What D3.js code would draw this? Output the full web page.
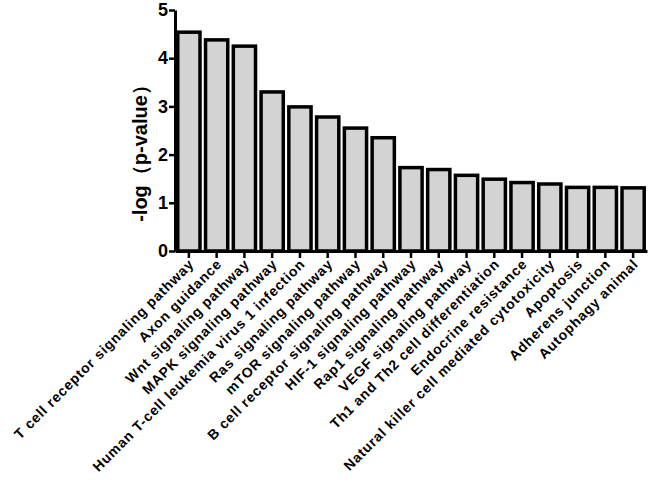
<!DOCTYPE html>
<html>
<head>
<meta charset="utf-8">
<script src="https://cdn.jsdelivr.net/npm/d3@7"></script>
<style>
  body { margin: 0; background: #fff; }
  svg { display: block; font-family: "Liberation Sans", Arial, sans-serif; }
</style>
</head>
<body>
<svg id="chart" width="654" height="484"></svg>
<script>
var pathways = [
  'T cell receptor signaling pathway', 'Axon guidance', 'Wnt signaling pathway',
  'MAPK signaling pathway', 'Human T-cell leukemia virus 1 infection', 'Ras signaling pathway',
  'mTOR signaling pathway', 'B cell receptor signaling pathway', 'HIF-1 signaling pathway',
  'Rap1 signaling pathway', 'VEGF signaling pathway', 'Th1 and Th2 cell differentiation',
  'Endocrine resistance', 'Natural killer cell mediated cytotoxicity', 'Apoptosis',
  'Adherens junction', 'Autophagy animal'
]
var logP = [4.54, 4.38, 4.25, 3.30, 2.99, 2.78, 2.55, 2.35, 1.73, 1.69, 1.57, 1.49, 1.42, 1.39, 1.32, 1.32, 1.31]
var yTicks = [0, 1, 2, 3, 4, 5]

var mLeft = 175, mRight = 647, mTop = 10, mBottom = 251

var svg = d3.select('#chart')

var x = d3.scaleBand()
    .domain(pathways)
    .range([mLeft, mRight])
    .paddingInner(0.2)
    .paddingOuter(0.1)

var y = d3.scaleLinear()
    .domain([0, 5])
    .range([mBottom, mTop])

svg.append('g')
  .selectAll('rect')
  .data(pathways)
  .join('rect')
    .attr('x', d => x(d))
    .attr('y', (d, i) => y(logP[i]))
    .attr('width', x.bandwidth())
    .attr('height', (d, i) => y(0) - y(logP[i]))
    .attr('fill', '#d3d3d3')
    .attr('stroke', '#000')
    .attr('stroke-width', 3.5)

var xAxis = svg.append('g')
    .attr('transform', `translate(0,${mBottom})`)
    .call(d3.axisBottom(x).tickSize(7).tickSizeOuter(0))

xAxis.select('.domain').attr('stroke-width', 3)
xAxis.selectAll('.tick line').attr('stroke-width', 2.5)
xAxis.selectAll('.tick text')
    .attr('font-size', 14)
    .attr('font-weight', 'bold')
    .attr('letter-spacing', 0.8)
    .attr('fill', '#000')
    .attr('text-anchor', 'end')
    .attr('dx', 0)
    .attr('dy', 0)
    .attr('transform', 'translate(6,14) rotate(-45)')
    .attr('x', 0)
    .attr('y', 0)

var yAxis = svg.append('g')
    .attr('transform', `translate(${mLeft},0)`)
    .call(d3.axisLeft(y).tickValues(yTicks).tickFormat(d3.format('d')).tickSize(6).tickSizeOuter(0))

yAxis.select('.domain').attr('stroke-width', 3)
yAxis.selectAll('.tick line').attr('stroke-width', 2.5)
yAxis.selectAll('.tick text')
    .attr('font-size', 18)
    .attr('font-weight', 'bold')
    .attr('fill', '#000')
    .attr('x', -7)

svg.append('text')
    .attr('transform', `translate(147,${(mTop + mBottom) / 2 + 18}) rotate(-90)`)
    .attr('text-anchor', 'middle')
    .attr('font-size', 20)
    .attr('font-weight', 'bold')
    .text('-log（p-value）')
</script>
</body>
</html>
